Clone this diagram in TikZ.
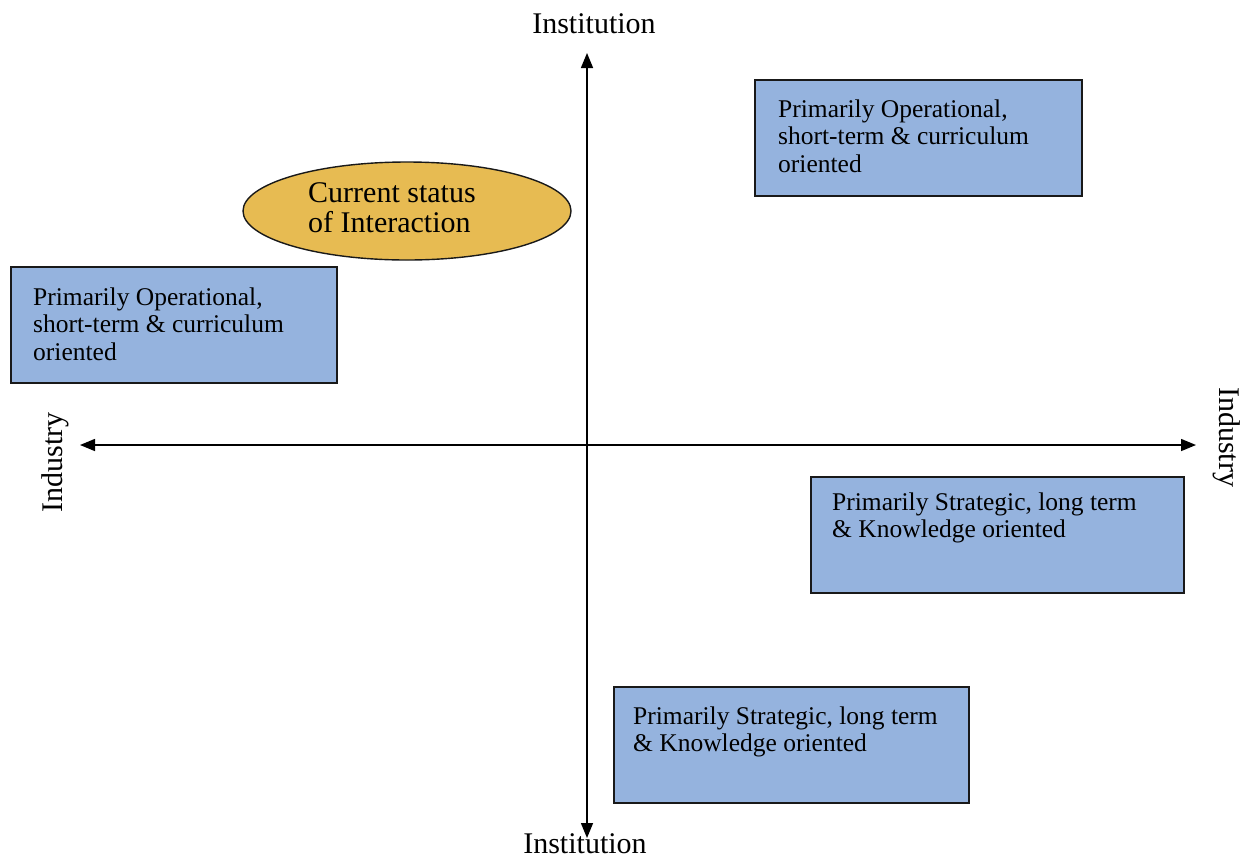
\documentclass[tikz,border=0pt]{standalone}
\usepackage{fontspec}
\setmainfont{Liberation Serif}
\usetikzlibrary{arrows.meta,shapes.geometric}
\definecolor{boxblue}{RGB}{149,179,222}
\definecolor{ovalgold}{RGB}{231,187,82}
\begin{document}
\begin{tikzpicture}[x=1pt,y=-1pt,
  box/.style={draw=black!90, line width=1.5pt, fill=boxblue, inner sep=0pt,
              anchor=north west, minimum height=116pt},
  boxtext/.style={anchor=base west, inner sep=0pt,
                  font=\fontsize{25.5}{27.5}\selectfont},
  ovaltext/.style={anchor=base west, inner sep=0pt,
                   font=\fontsize{30}{30}\selectfont},
  axislabel/.style={inner sep=0pt, anchor=base, font=\fontsize{30}{32}\selectfont},
  axis/.style={line width=1.5pt,
               {Triangle[length=15pt,width=12pt]}-{Triangle[length=15pt,width=12pt]}}]
\useasboundingbox (0,0) rectangle (1246,860);

% axes
\coordinate (top) at (587,53);
\coordinate (bottom) at (587,838);
\coordinate (left) at (80,445);
\coordinate (right) at (1196,445);
\draw[axis] (bottom) -- (top);
\draw[axis] (left) -- (right);

% axis labels
\node[axislabel] (instTop) at (594,33) {Institution};
\node[axislabel] (instBottom) at (585,853) {Institution};
\node[axislabel, rotate=90] (indLeft) at (62,462) {Industry};
\node[axislabel, rotate=-90] (indRight) at (1219,437) {Industry};

% current status oval
\node[draw=black!90, line width=1.4pt, ellipse, fill=ovalgold, inner sep=0pt,
      minimum width=328pt, minimum height=98pt] (status) at (407,211) {};
\node[ovaltext] (statusText) at (308,202)
  {\begin{tabular}[t]{@{}l@{}}Current status\\ of Interaction\end{tabular}};

% operational boxes
\node[box, minimum width=326pt] (opLeft) at (10,266) {};
\node[boxtext] (opLeftText) at (33,305)
  {\begin{tabular}[t]{@{}l@{}}Primarily Operational,\\ short-term \& curriculum\\ oriented\end{tabular}};

\node[box, minimum width=327pt] (opRight) at (754,79) {};
\node[boxtext] (opRightText) at (778,117)
  {\begin{tabular}[t]{@{}l@{}}Primarily Operational,\\ short-term \& curriculum\\ oriented\end{tabular}};

% strategic boxes
\node[box, minimum width=373pt] (stRight) at (810,476) {};
\node[boxtext] (stRightText) at (832,510)
  {\begin{tabular}[t]{@{}l@{}}Primarily Strategic, long term\\ \& Knowledge oriented\end{tabular}};

\node[box, minimum width=355pt] (stBottom) at (613,686) {};
\node[boxtext] (stBottomText) at (633,724)
  {\begin{tabular}[t]{@{}l@{}}Primarily Strategic, long term\\ \& Knowledge oriented\end{tabular}};
\end{tikzpicture}
\end{document}
